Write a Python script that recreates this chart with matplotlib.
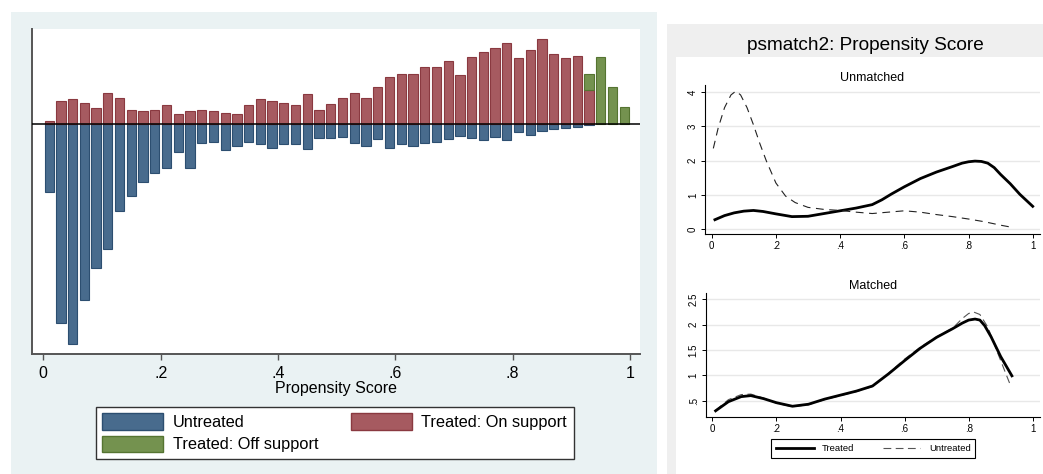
import matplotlib
matplotlib.use("Agg")
import matplotlib.pyplot as plt
from matplotlib.patches import Rectangle, Patch
from matplotlib.lines import Line2D

plt.rcParams['font.family'] = ['Liberation Sans', 'DejaVu Sans']

# ---------------- data ----------------
bin_centers = [0.01, 0.03, 0.05, 0.07, 0.09, 0.11, 0.13, 0.15, 0.17, 0.19,
               0.21, 0.23, 0.25, 0.27, 0.29, 0.31, 0.33, 0.35, 0.37, 0.39,
               0.41, 0.43, 0.45, 0.47, 0.49, 0.51, 0.53, 0.55, 0.57, 0.59,
               0.61, 0.63, 0.65, 0.67, 0.69, 0.71, 0.73, 0.75, 0.77, 0.79,
               0.81, 0.83, 0.85, 0.87, 0.89, 0.91, 0.93, 0.95, 0.97, 0.99]

untreated = [68, 198.4, 219.4, 175.7, 143.4, 124.7, 86.7, 71.4, 58, 48.4,
             44, 27.7, 44, 19, 18, 25.7, 22, 18, 20, 24,
             20, 19.7, 25, 13.4, 13.4, 12.4, 19, 21.4, 14.4, 24,
             20, 22, 19, 18, 14.4, 12, 13.4, 16, 12.4, 15.4,
             8, 10.7, 6.4, 5, 3.7, 2.4, 1, 0, 0, 0]

treated_on = [3, 23.3, 25, 21.7, 16.3, 31.7, 26, 14.7, 13, 14.7,
              19, 10, 13, 14.7, 13, 11.7, 10, 19, 25, 23.3,
              21.3, 19, 30, 14.7, 20.3, 26, 31.7, 26, 37.7, 47.3,
              50.7, 50.7, 57.7, 57.7, 63.3, 49, 67.7, 72, 76, 81.7,
              66, 74.7, 85, 70.7, 66, 68.7, 34.3, 0, 0, 0]

treated_off = [0, 0, 0, 0, 0, 0, 0, 0, 0, 0,
               0, 0, 0, 0, 0, 0, 0, 0, 0, 0,
               0, 0, 0, 0, 0, 0, 0, 0, 0, 0,
               0, 0, 0, 0, 0, 0, 0, 0, 0, 0,
               0, 0, 0, 0, 0, 0, 16.4, 67.3, 37.7, 17.3]

xtick_vals = [0, 0.2, 0.4, 0.6, 0.8, 1.0]
xtick_labels = ["0", ".2", ".4", ".6", ".8", "1"]

# unmatched kernel densities
um_tr_x = [0.01, 0.04, 0.07, 0.10, 0.13, 0.16, 0.20, 0.25, 0.30, 0.35, 0.40, 0.45,
           0.50, 0.53, 0.56, 0.60, 0.65, 0.70, 0.75, 0.78, 0.80, 0.82, 0.84, 0.86,
           0.88, 0.90, 0.93, 0.96, 1.00]
um_tr_y = [0.28, 0.40, 0.48, 0.53, 0.55, 0.52, 0.45, 0.37, 0.38, 0.46, 0.54, 0.62,
           0.72, 0.86, 1.03, 1.24, 1.48, 1.67, 1.83, 1.93, 1.97, 1.99, 1.98, 1.93,
           1.80, 1.60, 1.33, 1.02, 0.67]
um_un_x = [0.005, 0.02, 0.04, 0.06, 0.075, 0.09, 0.11, 0.13, 0.15, 0.17, 0.20, 0.23,
           0.26, 0.30, 0.35, 0.40, 0.45, 0.50, 0.55, 0.60, 0.65, 0.70, 0.75, 0.80,
           0.85, 0.90, 0.94]
um_un_y = [2.36, 2.95, 3.55, 3.92, 4.03, 3.92, 3.55, 3.05, 2.50, 2.00, 1.35, 0.97,
           0.78, 0.64, 0.58, 0.55, 0.50, 0.46, 0.50, 0.54, 0.50, 0.43, 0.37, 0.30,
           0.22, 0.12, 0.05]
um_yticks = [0, 1, 2, 3, 4]

# matched kernel densities
m_tr_x = [0.01, 0.05, 0.09, 0.12, 0.16, 0.20, 0.25, 0.30, 0.35, 0.40, 0.45, 0.50,
          0.55, 0.60, 0.65, 0.70, 0.75, 0.78, 0.80, 0.82, 0.835, 0.85, 0.87, 0.90,
          0.935]
m_tr_y = [0.30, 0.48, 0.58, 0.60, 0.54, 0.46, 0.39, 0.43, 0.53, 0.61, 0.69, 0.79,
          1.03, 1.29, 1.54, 1.75, 1.92, 2.03, 2.09, 2.11, 2.09, 1.98, 1.76, 1.37,
          0.99]
m_un_x = [0.01, 0.05, 0.09, 0.12, 0.16, 0.20, 0.25, 0.30, 0.35, 0.40, 0.45, 0.50,
          0.55, 0.60, 0.65, 0.70, 0.75, 0.78, 0.80, 0.815, 0.835, 0.86, 0.89, 0.93]
m_un_y = [0.31, 0.52, 0.62, 0.63, 0.55, 0.45, 0.38, 0.42, 0.52, 0.60, 0.68, 0.78,
          1.04, 1.32, 1.56, 1.76, 1.93, 2.12, 2.22, 2.25, 2.20, 1.95, 1.45, 0.81]
m_yticks = [0.5, 1, 1.5, 2, 2.5]
m_ytick_labels = [".5", "1", "1.5", "2", "2.5"]

# ---------------- figure ----------------
W, H = 1043, 474
fig = plt.figure(figsize=(W / 100, H / 100), dpi=100)
fig.patch.set_facecolor('white')

def fx(px):
    return px / W

def fy(py):
    return 1 - py / H

# backgrounds (drawn below the axes)
fig.patches.append(Rectangle((fx(11), 0), fx(656.7 - 11), (H - 12.3) / H,
                             transform=fig.transFigure, facecolor='#EAF2F3',
                             edgecolor='none', zorder=-5))
fig.patches.append(Rectangle((fx(666.7), 0), fx(W - 666.7), (H - 24) / H,
                             transform=fig.transFigure, facecolor='#EFEFEF',
                             edgecolor='none', zorder=-5))
fig.patches.append(Rectangle((fx(675.7), 0), fx(W - 675.7), (H - 56.7) / H,
                             transform=fig.transFigure, facecolor='white',
                             edgecolor='none', zorder=-4))

# ---------------- left histogram ----------------
blue_f, blue_e = '#486B8D', '#2C4E70'
red_f, red_e = '#A65A60', '#8A3940'
green_f, green_e = '#74924F', '#557431'

ax1 = fig.add_axes([fx(32.3), fy(353.7), fx(640 - 32.3), (353.7 - 29.3) / H])
ax1.set_facecolor('white')
bw = 0.0158

def nonzero(xs, vs, base=None):
    keep = [i for i, v in enumerate(vs) if v > 0]
    out = ([xs[i] for i in keep], [vs[i] for i in keep])
    if base is not None:
        out = out + ([base[i] for i in keep],)
    return out

ux, uv = nonzero(bin_centers, untreated)
ax1.bar(ux, [-v for v in uv], width=bw, color=blue_f,
        edgecolor=blue_e, linewidth=0.8, zorder=2)
rx, rv = nonzero(bin_centers, treated_on)
ax1.bar(rx, rv, width=bw, color=red_f, edgecolor=red_e,
        linewidth=0.8, zorder=2)
gx, gv, gb = nonzero(bin_centers, treated_off, treated_on)
ax1.bar(gx, gv, bottom=gb, width=bw, color=green_f,
        edgecolor=green_e, linewidth=0.8, zorder=2)
ax1.axhline(0, color='black', lw=1.1, zorder=3)
ax1.set_xlim(-0.01875, 1.017)
ax1.set_ylim(-229.4, 95)
for s in ['top', 'right']:
    ax1.spines[s].set_visible(False)
for s in ['left', 'bottom']:
    ax1.spines[s].set_color('#555555')
    ax1.spines[s].set_linewidth(1.4)
ax1.set_yticks([])
ax1.set_xticks(xtick_vals)
ax1.set_xticklabels(xtick_labels, fontsize=11.5)
ax1.tick_params(axis='x', direction='out', length=4.5, width=1, color='#555555', pad=4)
ax1.set_xlabel("Propensity Score", fontsize=11.5, labelpad=0)

handles = [Patch(facecolor=blue_f, edgecolor=blue_e, label='Untreated'),
           Patch(facecolor=green_f, edgecolor=green_e, label='Treated: Off support'),
           Patch(facecolor=red_f, edgecolor=red_e, label='Treated: On support')]
leg = fig.legend(handles=handles, loc='upper left',
                 bbox_to_anchor=(fx(95.7), fy(406.7)), borderaxespad=0,
                 ncol=2, fontsize=11.8, frameon=True, fancybox=False,
                 edgecolor='#333333', facecolor='white', framealpha=1,
                 handlelength=3.7, handleheight=1.15, handletextpad=0.6,
                 columnspacing=2.0, labelspacing=0.35, borderpad=0.4)
leg.get_frame().set_linewidth(1.0)

# ---------------- right panel ----------------
fig.text(fx(865), fy(45.5), "psmatch2: Propensity Score", ha='center',
         va='center', fontsize=13.7)

def style_small(ax):
    for s in ['top', 'right']:
        ax.spines[s].set_visible(False)
    for s in ['left', 'bottom']:
        ax.spines[s].set_color('black')
        ax.spines[s].set_linewidth(0.8)
    ax.tick_params(direction='out', length=3, width=0.7, labelsize=7, pad=2)
    ax.yaxis.grid(True, color='#E8E8E8', lw=1)
    ax.set_axisbelow(True)
    ax.set_xticks(xtick_vals)
    ax.set_xticklabels(xtick_labels)

ax2 = fig.add_axes([fx(705), fy(234), fx(335), 149 / H])
ax2.set_facecolor('white')
ax2.plot(um_tr_x, um_tr_y, color='black', lw=2.0, solid_joinstyle='round')
ax2.plot(um_un_x, um_un_y, color='#222222', lw=0.8, linestyle=(0, (7, 5)))
ax2.set_xlim(-0.0209, 1.0227)
ax2.set_ylim(-0.137, 4.21)
style_small(ax2)
ax2.set_yticks(um_yticks)
ax2.set_yticklabels([str(v) for v in um_yticks], rotation=90, va='center')
ax2.set_title("Unmatched", fontsize=9, pad=3)

ax3 = fig.add_axes([fx(705.7), fy(416.7), fx(334.3), 123.4 / H])
ax3.set_facecolor('white')
ax3.plot(m_un_x, m_un_y, color='#555555', lw=0.8, linestyle=(0, (7, 4)))
ax3.plot(m_tr_x, m_tr_y, color='black', lw=2.0, solid_joinstyle='round')
ax3.set_xlim(-0.0209, 1.0227)
ax3.set_ylim(0.184, 2.618)
style_small(ax3)
ax3.set_yticks(m_yticks)
ax3.set_yticklabels(m_ytick_labels, rotation=90, va='center')
ax3.set_title("Matched", fontsize=9, pad=3)

h2 = [Line2D([], [], color='black', lw=2.0, label='Treated'),
      Line2D([], [], color='#555555', lw=0.8, linestyle=(0, (7, 4)), label='Untreated')]
leg2 = fig.legend(handles=h2, loc='upper left', bbox_to_anchor=(fx(771), fy(439.3)),
                  borderaxespad=0, ncol=2, fontsize=6.8, frameon=True,
                  fancybox=False, edgecolor='black', facecolor='white',
                  framealpha=1, handlelength=4.0, handletextpad=0.9,
                  columnspacing=3.0, borderpad=0.5)
leg2.get_frame().set_linewidth(0.8)

fig.savefig("out.png", dpi=100)
